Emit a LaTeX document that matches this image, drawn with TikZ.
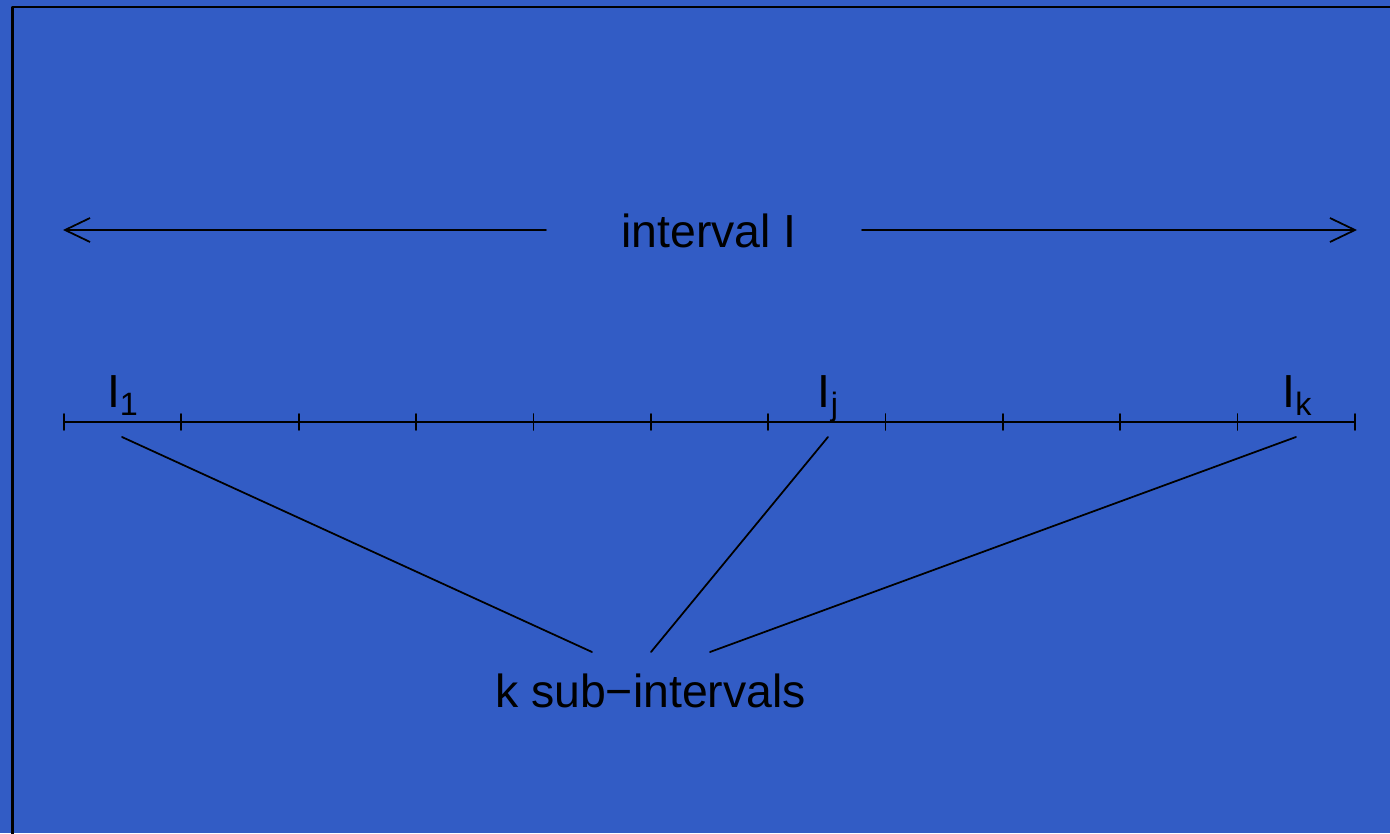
\documentclass[tikz,border=0pt]{standalone}
\usepackage{fontspec}
\setmainfont{Liberation Sans}
\usetikzlibrary{arrows.meta,calc}
\definecolor{plotbg}{RGB}{50,92,197}
\newcommand{\lowsub}[1]{\raisebox{-2.3pt}{\fontsize{9.2}{9.2}\selectfont #1}}
\begin{document}
\begin{tikzpicture}[line cap=round, line join=round,
    lbl/.style={inner sep=0pt, outer sep=0pt, anchor=base, font=\fontsize{13.2}{15}\selectfont},
    thin line/.style={line width=0.5pt},
    barb/.style={-{Straight Barb[length=2.5mm, width=2.4mm]}}]
  \useasboundingbox (0,0) rectangle (13.9,8.33);
  \fill[plotbg] (0,0) rectangle (13.9,8.33);
  \draw[line width=0.7pt] (0.125,-0.5) -- (0.125,8.26) -- (14.5,8.26);
  % whole interval
  \node[lbl] (whole) at (7.09,5.86) {interval I};
  \coordinate (wl0) at (5.46,6.03); \coordinate (wl1) at (0.63,6.03);
  \coordinate (wr0) at (8.62,6.03); \coordinate (wr1) at (13.57,6.03);
  \draw[thin line, barb] (wl0) -- (wl1);
  \draw[thin line, barb] (wr0) -- (wr1);
  % axis with ticks
  \coordinate (ax0) at (0.64,4.11); \coordinate (ax1) at (13.55,4.11);
  \draw[thin line] (ax0) -- (ax1);
  \foreach \i in {0,...,11}
    \draw[thin line] ($(ax0)+(\i*1.1736,-0.08)$) -- ++(0,0.16);
  \node[lbl] (I1) at (1.225,4.26) {I\lowsub{1}};
  \node[lbl] (Ij) at (8.28,4.26) {I\lowsub{j}};
  \node[lbl] (Ik) at (12.97,4.26) {I\lowsub{k}};
  % sub-intervals
  \node[lbl] (subs) at (6.505,1.26) {k sub\textminus intervals};
  \coordinate (s1) at (1.22,3.96); \coordinate (e1) at (5.92,1.81);
  \coordinate (sj) at (8.28,3.96); \coordinate (ej) at (6.51,1.81);
  \coordinate (sk) at (12.96,3.96); \coordinate (ek) at (7.10,1.81);
  \draw[thin line] (s1) -- (e1);
  \draw[thin line] (sj) -- (ej);
  \draw[thin line] (sk) -- (ek);
\end{tikzpicture}
\end{document}
